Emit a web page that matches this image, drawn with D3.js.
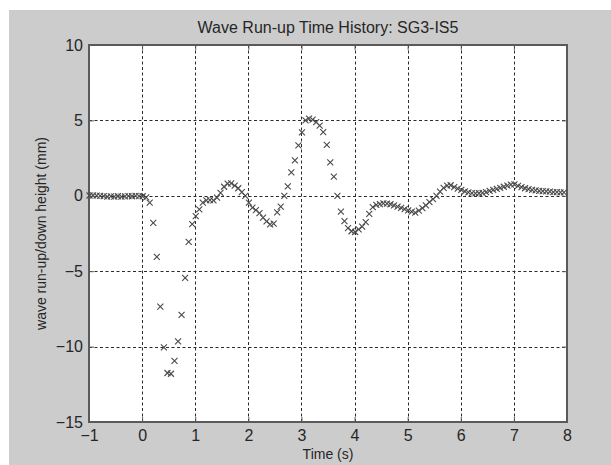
<!DOCTYPE html>
<html>
<head>
<meta charset="utf-8">
<script src="https://cdn.jsdelivr.net/npm/d3@7"></script>
<style>
  html, body { margin: 0; padding: 0; background: #ffffff; }
  svg { display: block; }
  text { font-family: "Liberation Sans", Arial, Helvetica, sans-serif; fill: #262626; }
</style>
</head>
<body>
<svg id="chart" width="611" height="465"></svg>
<script>
// Wave run-up/down record, sampled at 15 Hz
const timeSec = [
  -0.990, -0.923, -0.857, -0.790, -0.723, -0.657, -0.590, -0.523, -0.457, -0.390,
  -0.323, -0.257, -0.190, -0.123, -0.057, 0.010, 0.077, 0.143, 0.210, 0.277,
  0.343, 0.410, 0.477, 0.543, 0.610, 0.677, 0.743, 0.810, 0.877, 0.943,
  1.010, 1.077, 1.143, 1.210, 1.277, 1.343, 1.410, 1.477, 1.543, 1.610,
  1.677, 1.743, 1.810, 1.877, 1.943, 2.010, 2.077, 2.143, 2.210, 2.277,
  2.343, 2.410, 2.477, 2.543, 2.610, 2.677, 2.743, 2.810, 2.877, 2.943,
  3.010, 3.077, 3.143, 3.210, 3.277, 3.343, 3.410, 3.477, 3.543, 3.610,
  3.677, 3.743, 3.810, 3.877, 3.943, 4.010, 4.077, 4.143, 4.210, 4.277,
  4.343, 4.410, 4.477, 4.543, 4.610, 4.677, 4.743, 4.810, 4.877, 4.943,
  5.010, 5.077, 5.143, 5.210, 5.277, 5.343, 5.410, 5.477, 5.543, 5.610,
  5.677, 5.743, 5.810, 5.877, 5.943, 6.010, 6.077, 6.143, 6.210, 6.277,
  6.343, 6.410, 6.477, 6.543, 6.610, 6.677, 6.743, 6.810, 6.877, 6.943,
  7.010, 7.077, 7.143, 7.210, 7.277, 7.343, 7.410, 7.477, 7.543, 7.610,
  7.677, 7.743, 7.810, 7.877, 7.943
];
const heightMm = [
  0.02, 0.03, 0.01, 0.00, -0.02, -0.05, -0.04, -0.06, -0.03, -0.05,
  -0.04, -0.02, -0.03, 0.00, -0.02, -0.03, -0.10, -0.45, -1.80, -4.05,
  -7.35, -10.05, -11.75, -11.80, -10.95, -9.65, -7.90, -5.45, -3.05, -1.88,
  -1.35, -0.90, -0.45, -0.30, -0.28, -0.30, -0.12, 0.20, 0.60, 0.80,
  0.82, 0.68, 0.50, 0.25, 0.00, -0.45, -0.78, -0.95, -1.15, -1.45,
  -1.70, -1.90, -1.85, -1.10, -0.72, 0.00, 0.62, 1.55, 2.35, 3.35,
  4.20, 5.00, 5.12, 5.05, 4.88, 4.65, 4.22, 3.37, 2.22, 1.27,
  0.00, -1.05, -1.68, -2.15, -2.35, -2.40, -2.22, -2.05, -1.75, -1.20,
  -0.75, -0.60, -0.55, -0.50, -0.52, -0.56, -0.64, -0.72, -0.80, -0.88,
  -0.97, -1.05, -1.12, -0.98, -0.82, -0.64, -0.42, -0.22, 0.00, 0.27,
  0.52, 0.68, 0.70, 0.58, 0.48, 0.40, 0.30, 0.22, 0.18, 0.16,
  0.17, 0.20, 0.25, 0.32, 0.40, 0.46, 0.53, 0.60, 0.68, 0.74,
  0.76, 0.66, 0.57, 0.50, 0.44, 0.40, 0.36, 0.33, 0.31, 0.29,
  0.27, 0.25, 0.24, 0.23, 0.23
];
const xTickValues = [-1, 0, 1, 2, 3, 4, 5, 6, 7, 8];
const yTickValues = [-15, -10, -5, 0, 5, 10];
const titleText = "Wave Run-up Time History: SG3-IS5";
const xLabelText = "Time (s)";
const yLabelText = "wave run-up/down height (mm)";

const points = timeSec.map((t, i) => ({ t, h: heightMm[i] }));

const svg = d3.select("#chart");
const W = 611, H = 465;
const plot = { left: 89, right: 567, top: 45, bottom: 422 };

// figure background
svg.append("rect").attr("x", 9).attr("y", 10).attr("width", W - 9).attr("height", H - 10)
  .attr("fill", "#cccccc");

const x = d3.scaleLinear().domain([-1, 8]).range([plot.left, plot.right]);
const y = d3.scaleLinear().domain([-15, 10]).range([plot.bottom, plot.top]);

// axes area
svg.append("rect")
  .attr("x", plot.left).attr("y", plot.top)
  .attr("width", plot.right - plot.left).attr("height", plot.bottom - plot.top)
  .attr("fill", "#ffffff");

// dotted grid
const grid = svg.append("g").attr("stroke", "#2a2a2a").attr("stroke-width", 1)
  .attr("stroke-dasharray", "3,2.5").attr("fill", "none");
grid.selectAll("line.v").data(xTickValues.slice(1, -1)).join("line")
  .attr("x1", d => Math.round(x(d)) + 0.5).attr("x2", d => Math.round(x(d)) + 0.5)
  .attr("y1", plot.top).attr("y2", plot.bottom);
grid.selectAll("line.h").data(yTickValues.slice(1, -1)).join("line")
  .attr("y1", d => Math.round(y(d)) + 0.5).attr("y2", d => Math.round(y(d)) + 0.5)
  .attr("x1", plot.left).attr("x2", plot.right);

// axes with inward ticks on all four sides
const tickLen = 5;
const axisColor = "#5a5a5a";
function styleAxis(g) {
  g.select(".domain").remove();
  g.selectAll(".tick line").attr("stroke", axisColor).attr("stroke-width", 1);
  g.selectAll(".tick text").attr("fill", "#262626");
}
svg.append("g").attr("transform", `translate(0,${plot.bottom})`)
  .call(d3.axisBottom(x).tickValues(xTickValues).tickSize(-tickLen).tickPadding(8).tickFormat(d3.format("d")))
  .call(styleAxis)
  .call(g => g.selectAll(".tick text").attr("font-size", 16).attr("font-family", "Liberation Sans, Arial, sans-serif"));
svg.append("g").attr("transform", `translate(0,${plot.top})`)
  .call(d3.axisTop(x).tickValues(xTickValues).tickSize(-tickLen).tickFormat(""))
  .call(styleAxis);
svg.append("g").attr("transform", `translate(${plot.left},0)`)
  .call(d3.axisLeft(y).tickValues(yTickValues).tickSize(-tickLen).tickPadding(6).tickFormat(d3.format("d")))
  .call(styleAxis)
  .call(g => g.selectAll(".tick text").attr("font-size", 16).attr("font-family", "Liberation Sans, Arial, sans-serif"));
svg.append("g").attr("transform", `translate(${plot.right},0)`)
  .call(d3.axisRight(y).tickValues(yTickValues).tickSize(-tickLen).tickFormat(""))
  .call(styleAxis);

// axes box
svg.append("rect")
  .attr("x", plot.left).attr("y", plot.top)
  .attr("width", plot.right - plot.left).attr("height", plot.bottom - plot.top)
  .attr("fill", "none").attr("stroke", axisColor).attr("stroke-width", 2);

// 'x' markers
const m = 3;
const markers = svg.append("g").attr("stroke", "#4a4a4a").attr("stroke-width", 1.1).attr("fill", "none");
markers.selectAll("path").data(points).join("path")
  .attr("d", d => {
    const cx = x(d.t), cy = y(d.h);
    return `M${cx - m},${cy - m}L${cx + m},${cy + m}M${cx - m},${cy + m}L${cx + m},${cy - m}`;
  });

// labels
const midX = (plot.left + plot.right) / 2;
svg.append("text").attr("x", midX).attr("y", 33).attr("text-anchor", "middle")
  .attr("font-size", 16).text(titleText);
svg.append("text").attr("x", midX).attr("y", 459).attr("text-anchor", "middle")
  .attr("font-size", 14).text(xLabelText);
svg.append("text")
  .attr("transform", `translate(46,${(plot.top + plot.bottom) / 2}) rotate(-90)`)
  .attr("text-anchor", "middle").attr("font-size", 14).text(yLabelText);
</script>
</body>
</html>
